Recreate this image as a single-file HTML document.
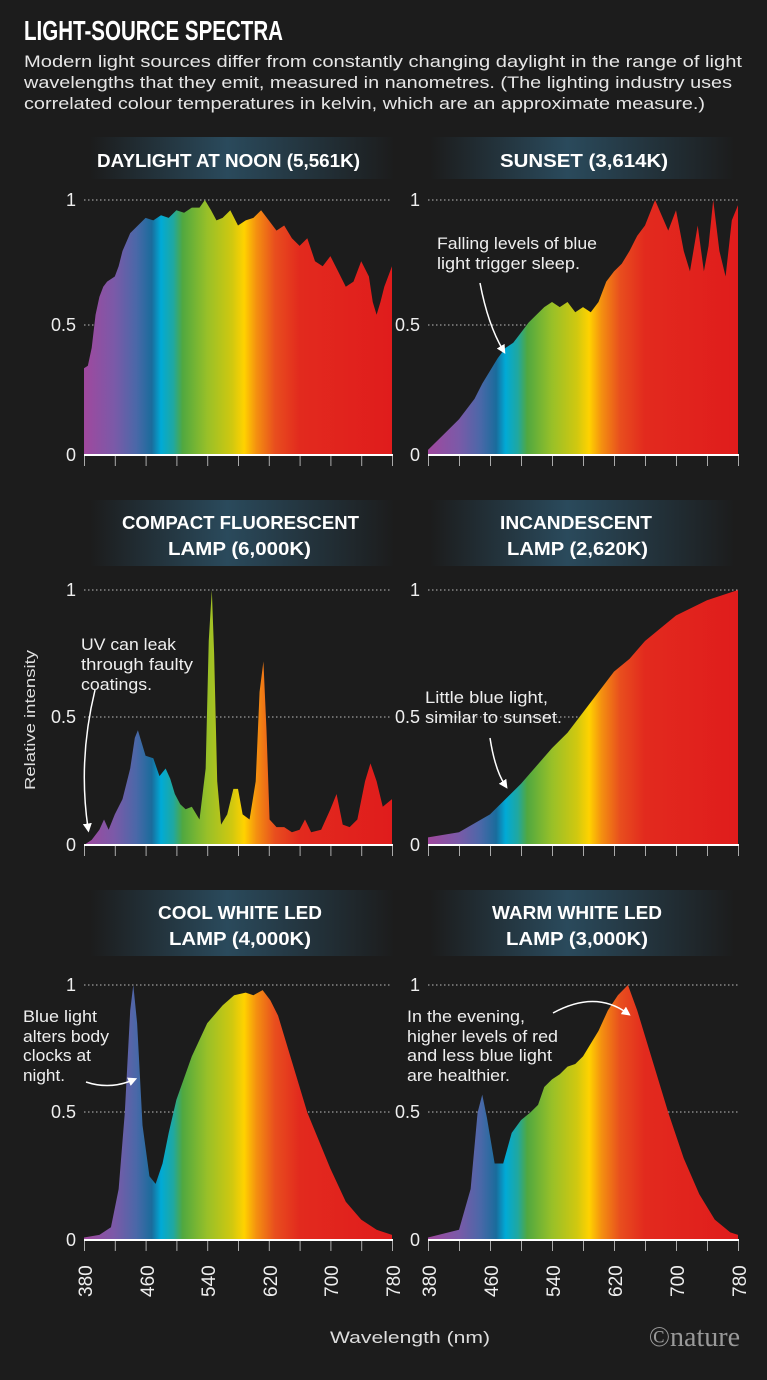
<!DOCTYPE html>
<html><head><meta charset="utf-8"><style>
body{margin:0;background:#1c1c1c;width:767px;height:1375px;overflow:hidden;font-family:"Liberation Sans",sans-serif}
</style></head><body>
<svg width="767" height="1375" viewBox="0 0 767 1375" xmlns="http://www.w3.org/2000/svg" font-family="Liberation Sans, sans-serif">
<defs>
<linearGradient id="sp" x1="0" x2="1" y1="0" y2="0">
<stop offset="0" stop-color="#a0489e"/>
<stop offset="0.1" stop-color="#7a5aa8"/>
<stop offset="0.17" stop-color="#4a68a8"/>
<stop offset="0.22" stop-color="#1a6c9c"/>
<stop offset="0.25" stop-color="#00aad6"/>
<stop offset="0.29" stop-color="#20a8a0"/>
<stop offset="0.32" stop-color="#50a840"/>
<stop offset="0.4" stop-color="#98c028"/>
<stop offset="0.48" stop-color="#d0c810"/>
<stop offset="0.52" stop-color="#ffd200"/>
<stop offset="0.56" stop-color="#f49010"/>
<stop offset="0.62" stop-color="#e84e1e"/>
<stop offset="0.7" stop-color="#e22a1e"/>
<stop offset="1" stop-color="#e01c1c"/>
</linearGradient>
<linearGradient id="hb" x1="0" x2="1" y1="0" y2="0">
<stop offset="0" stop-color="#1c1c1c"/>
<stop offset="0.45" stop-color="#2a4a5c"/>
<stop offset="1" stop-color="#1c1c1c"/>
</linearGradient>
<marker id="ah" markerWidth="6" markerHeight="6" refX="3" refY="3" orient="auto"><path d="M0,0 L6,3 L0,6 z" fill="#fff"/></marker>
</defs>
<rect width="767" height="1375" fill="#1c1c1c"/>
<text x="24" y="40" fill="#fff" font-size="28" font-weight="bold" textLength="259" lengthAdjust="spacingAndGlyphs">LIGHT-SOURCE SPECTRA</text>
<g fill="#e6e6e6" font-size="17">
<text x="24" y="67" textLength="718" lengthAdjust="spacingAndGlyphs">Modern light sources differ from constantly changing daylight in the range of light</text>
<text x="24" y="88" textLength="708" lengthAdjust="spacingAndGlyphs">wavelengths that they emit, measured in nanometres. (The lighting industry uses</text>
<text x="24" y="109" textLength="681" lengthAdjust="spacingAndGlyphs">correlated colour temperatures in kelvin, which are an approximate measure.)</text>
</g>

<rect x="90" y="137" width="305" height="42" fill="url(#hb)"/>
<rect x="430" y="137" width="305" height="42" fill="url(#hb)"/>
<rect x="90" y="500" width="305" height="66" fill="url(#hb)"/>
<rect x="430" y="500" width="305" height="66" fill="url(#hb)"/>
<rect x="90" y="890" width="305" height="66" fill="url(#hb)"/>
<rect x="430" y="890" width="305" height="66" fill="url(#hb)"/>
<g fill="#fff" font-size="18" font-weight="bold">
<text x="97" y="167" textLength="263" lengthAdjust="spacingAndGlyphs">DAYLIGHT AT NOON (5,561K)</text>
<text x="500" y="167" textLength="168" lengthAdjust="spacingAndGlyphs">SUNSET (3,614K)</text>
<text x="122" y="529" textLength="237" lengthAdjust="spacingAndGlyphs">COMPACT FLUORESCENT</text>
<text x="168" y="555" textLength="143" lengthAdjust="spacingAndGlyphs">LAMP (6,000K)</text>
<text x="500" y="529" textLength="152" lengthAdjust="spacingAndGlyphs">INCANDESCENT</text>
<text x="507" y="555" textLength="141" lengthAdjust="spacingAndGlyphs">LAMP (2,620K)</text>
<text x="158" y="919" textLength="164" lengthAdjust="spacingAndGlyphs">COOL WHITE LED</text>
<text x="169" y="945" textLength="142" lengthAdjust="spacingAndGlyphs">LAMP (4,000K)</text>
<text x="492" y="919" textLength="170" lengthAdjust="spacingAndGlyphs">WARM WHITE LED</text>
<text x="506" y="945" textLength="142" lengthAdjust="spacingAndGlyphs">LAMP (3,000K)</text>
</g>

<g stroke="#bbb" stroke-width="1" stroke-dasharray="1.5,2.5">
<line x1="84" x2="392" y1="200" y2="200"/><line x1="84" x2="392" y1="325" y2="325"/>
<line x1="428" x2="738" y1="200" y2="200"/><line x1="428" x2="738" y1="325" y2="325"/>
<line x1="84" x2="392" y1="590" y2="590"/><line x1="84" x2="392" y1="717" y2="717"/>
<line x1="428" x2="738" y1="590" y2="590"/><line x1="428" x2="738" y1="717" y2="717"/>
<line x1="84" x2="392" y1="985" y2="985"/><line x1="84" x2="392" y1="1112" y2="1112"/>
<line x1="428" x2="738" y1="985" y2="985"/><line x1="428" x2="738" y1="1112" y2="1112"/>
</g>
<g fill="#eee" font-size="18" text-anchor="end">
<text x="76" y="206">1</text><text x="76" y="331">0.5</text><text x="76" y="461">0</text>
<text x="420" y="206">1</text><text x="420" y="331">0.5</text><text x="420" y="461">0</text>
<text x="76" y="596">1</text><text x="76" y="723">0.5</text><text x="76" y="851">0</text>
<text x="420" y="596">1</text><text x="420" y="723">0.5</text><text x="420" y="851">0</text>
<text x="76" y="991">1</text><text x="76" y="1118">0.5</text><text x="76" y="1246">0</text>
<text x="420" y="991">1</text><text x="420" y="1118">0.5</text><text x="420" y="1246">0</text>
</g>

<g fill="url(#sp)">
<g transform="translate(84,455) scale(0.77,-255) translate(-380,0)">
<path d="M380,0 L380,.34 L385,.35 L390,.42 L395,.55 L400,.62 L405,.66 L410,.68 L420,.7 L425,.74 L430,.8 L440,.87 L450,.9 L460,.93 L470,.92 L480,.94 L490,.93 L500,.96 L510,.95 L520,.97 L530,.97 L537,1 L545,.96 L552,.92 L560,.93 L570,.96 L580,.9 L590,.92 L600,.93 L610,.96 L620,.92 L630,.88 L640,.9 L650,.85 L660,.82 L670,.85 L680,.76 L690,.74 L700,.78 L710,.72 L720,.66 L730,.68 L740,.76 L750,.7 L755,.6 L760,.55 L765,.6 L770,.66 L780,.74 L780,0 Z"/>
</g>
<g transform="translate(428,455) scale(0.775,-255) translate(-380,0)">
<path d="M380,0 L380,.02 L400,.08 L420,.14 L440,.22 L450,.28 L460,.33 L470,.38 L480,.42 L490,.44 L500,.48 L510,.52 L520,.55 L530,.58 L540,.6 L550,.58 L560,.6 L570,.56 L580,.58 L590,.56 L600,.6 L610,.68 L620,.72 L630,.75 L640,.8 L650,.86 L660,.9 L673,1 L680,.95 L690,.88 L700,.96 L710,.8 L718,.72 L728,.9 L736,.72 L742,.82 L748,1 L756,.8 L764,.7 L772,.92 L780,.98 L780,0 Z"/>
</g>
<g transform="translate(84,845) scale(0.77,-255) translate(-380,0)">
<path d="M380,0 L390,.02 L400,.06 L406,.1 L412,.06 L420,.12 L430,.18 L440,.3 L446,.42 L450,.45 L455,.4 L460,.35 L470,.34 L478,.27 L486,.3 L492,.26 L498,.2 L505,.16 L512,.14 L520,.15 L530,.1 L538,.3 L542,.8 L546,1 L549,.75 L553,.25 L558,.08 L566,.12 L574,.22 L580,.22 L586,.12 L595,.1 L603,.25 L608,.6 L613,.72 L617,.45 L621,.1 L630,.07 L640,.07 L650,.05 L660,.06 L667,.1 L675,.05 L688,.06 L700,.14 L708,.2 L716,.08 L725,.07 L735,.1 L745,.25 L752,.32 L760,.25 L768,.15 L780,.18 L780,0 Z"/>
</g>
<g transform="translate(428,845) scale(0.775,-255) translate(-380,0)">
<path d="M380,0 L380,.03 L420,.05 L460,.12 L500,.24 L540,.38 L560,.44 L580,.52 L600,.6 L620,.68 L640,.73 L660,.8 L680,.85 L700,.9 L740,.96 L780,1 L780,0 Z"/>
</g>
<g transform="translate(84,1240) scale(0.77,-255) translate(-380,0)">
<path d="M380,0 L380,.01 L400,.02 L415,.05 L425,.2 L433,.5 L440,.9 L444,1 L449,.85 L456,.45 L465,.25 L473,.22 L482,.3 L490,.42 L500,.55 L520,.72 L540,.85 L560,.92 L575,.96 L590,.97 L600,.96 L612,.98 L622,.94 L632,.88 L650,.7 L670,.5 L700,.28 L720,.15 L740,.08 L760,.04 L780,.02 L780,0 Z"/>
</g>
<g transform="translate(428,1240) scale(0.775,-255) translate(-380,0)">
<path d="M380,0 L380,.01 L420,.04 L435,.2 L444,.5 L450,.57 L456,.48 L466,.3 L477,.3 L488,.42 L500,.47 L512,.5 L522,.53 L530,.6 L540,.63 L550,.65 L560,.68 L570,.69 L580,.72 L590,.77 L600,.82 L612,.9 L625,.96 L638,1 L650,.9 L670,.7 L690,.5 L710,.32 L730,.18 L750,.08 L770,.03 L780,.02 L780,0 Z"/>
</g>
</g>

<g stroke="#fff" stroke-width="2">
<line x1="84" x2="393" y1="455" y2="455"/><line x1="428" x2="739" y1="455" y2="455"/>
<line x1="84" x2="393" y1="845" y2="845"/><line x1="428" x2="739" y1="845" y2="845"/>
<line x1="84" x2="393" y1="1240" y2="1240"/><line x1="428" x2="739" y1="1240" y2="1240"/>
</g>
<g stroke="#aaa" stroke-width="1">
<path d="M84.5,456v10M115.3,456v10M146.1,456v10M176.9,456v10M207.7,456v10M238.5,456v10M269.3,456v10M300.1,456v10M330.9,456v10M361.7,456v10M392.5,456v10"/>
<path d="M428.5,456v10M459.5,456v10M490.5,456v10M521.5,456v10M552.5,456v10M583.5,456v10M614.5,456v10M645.5,456v10M676.5,456v10M707.5,456v10M738.5,456v10"/>
<path d="M84.5,846v10M115.3,846v10M146.1,846v10M176.9,846v10M207.7,846v10M238.5,846v10M269.3,846v10M300.1,846v10M330.9,846v10M361.7,846v10M392.5,846v10"/>
<path d="M428.5,846v10M459.5,846v10M490.5,846v10M521.5,846v10M552.5,846v10M583.5,846v10M614.5,846v10M645.5,846v10M676.5,846v10M707.5,846v10M738.5,846v10"/>
<path d="M84.5,1241v10M115.3,1241v10M146.1,1241v10M176.9,1241v10M207.7,1241v10M238.5,1241v10M269.3,1241v10M300.1,1241v10M330.9,1241v10M361.7,1241v10M392.5,1241v10"/>
<path d="M428.5,1241v10M459.5,1241v10M490.5,1241v10M521.5,1241v10M552.5,1241v10M583.5,1241v10M614.5,1241v10M645.5,1241v10M676.5,1241v10M707.5,1241v10M738.5,1241v10"/>
</g>
<g fill="#eee" font-size="19">
<text transform="translate(92,1297) rotate(-90)">380</text>
<text transform="translate(154,1297) rotate(-90)">460</text>
<text transform="translate(215,1297) rotate(-90)">540</text>
<text transform="translate(277,1297) rotate(-90)">620</text>
<text transform="translate(338,1297) rotate(-90)">700</text>
<text transform="translate(400,1297) rotate(-90)">780</text>
<text transform="translate(436,1297) rotate(-90)">380</text>
<text transform="translate(498,1297) rotate(-90)">460</text>
<text transform="translate(560,1297) rotate(-90)">540</text>
<text transform="translate(622,1297) rotate(-90)">620</text>
<text transform="translate(684,1297) rotate(-90)">700</text>
<text transform="translate(746,1297) rotate(-90)">780</text>
</g>
<text x="330" y="1343" fill="#ddd" font-size="16.5" textLength="160" lengthAdjust="spacingAndGlyphs">Wavelength (nm)</text>
<text transform="translate(35,790) rotate(-90)" fill="#ddd" font-size="15" textLength="140" lengthAdjust="spacingAndGlyphs">Relative intensity</text>
<text x="740" y="1346" fill="#999" font-size="28" font-family="Liberation Serif, serif" text-anchor="end">©nature</text>

<g fill="#eee" font-size="16.5">
<text x="437" y="249" textLength="160" lengthAdjust="spacingAndGlyphs">Falling levels of blue</text>
<text x="437" y="269" textLength="143" lengthAdjust="spacingAndGlyphs">light trigger sleep.</text>
<text x="81" y="650" textLength="95" lengthAdjust="spacingAndGlyphs">UV can leak</text>
<text x="81" y="670" textLength="112" lengthAdjust="spacingAndGlyphs">through faulty</text>
<text x="81" y="690" textLength="71" lengthAdjust="spacingAndGlyphs">coatings.</text>
<text x="425" y="703" textLength="123" lengthAdjust="spacingAndGlyphs">Little blue light,</text>
<text x="425" y="723" textLength="137" lengthAdjust="spacingAndGlyphs">similar to sunset.</text>
<text x="23" y="1022" textLength="74" lengthAdjust="spacingAndGlyphs">Blue light</text>
<text x="23" y="1042" textLength="86" lengthAdjust="spacingAndGlyphs">alters body</text>
<text x="23" y="1061" textLength="68" lengthAdjust="spacingAndGlyphs">clocks at</text>
<text x="23" y="1081" textLength="42" lengthAdjust="spacingAndGlyphs">night.</text>
<text x="407" y="1022" textLength="118" lengthAdjust="spacingAndGlyphs">In the evening,</text>
<text x="407" y="1042" textLength="151" lengthAdjust="spacingAndGlyphs">higher levels of red</text>
<text x="407" y="1061" textLength="145" lengthAdjust="spacingAndGlyphs">and less blue light</text>
<text x="407" y="1081" textLength="103" lengthAdjust="spacingAndGlyphs">are healthier.</text>
</g>
<g stroke="#fff" stroke-width="1.5" fill="none" marker-end="url(#ah)">
<path d="M480,283 Q488,325 503,350"/>
<path d="M95,690 Q78,760 88,828"/>
<path d="M490,738 Q495,770 505,785"/>
<path d="M86,1082 Q110,1090 133,1080"/>
<path d="M553,1013 Q595,990 627,1013"/>
</g>
</svg>
</body></html>
